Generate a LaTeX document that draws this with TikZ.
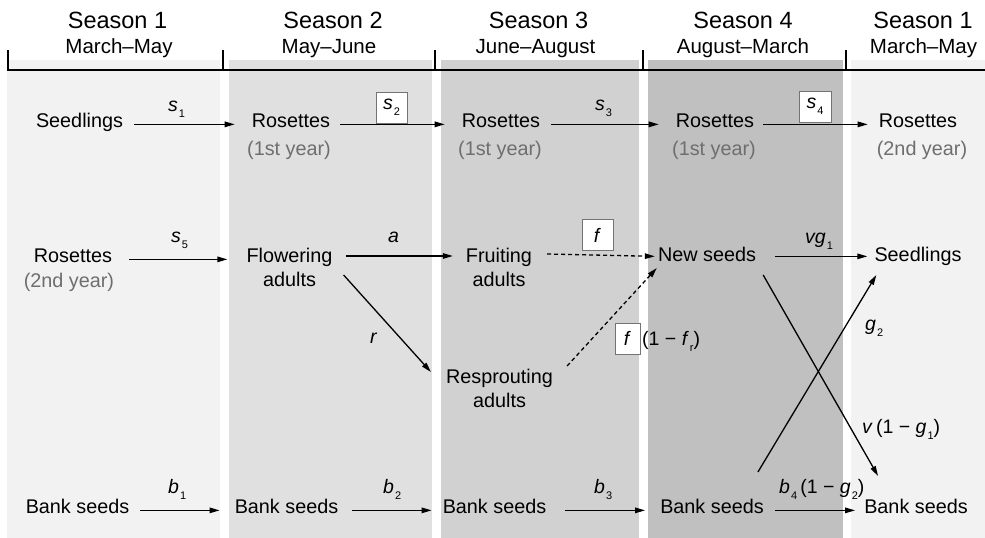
\documentclass[tikz,border=0pt]{standalone}
\usepackage{fontspec}
\setmainfont{Liberation Sans}
\usetikzlibrary{arrows.meta}
\definecolor{colA}{HTML}{F2F2F2}
\definecolor{colB}{HTML}{E0E0E0}
\definecolor{colC}{HTML}{D1D1D1}
\definecolor{colD}{HTML}{C0C0C0}
\definecolor{subgray}{HTML}{6E6E6E}
\newcommand{\lsub}[1]{\hspace{1pt}\raisebox{-6pt}{\fontsize{11}{11}\selectfont #1}}
\begin{document}
\begin{tikzpicture}[x=1pt,y=-1pt,
  txt/.style={font=\fontsize{19.8}{24}\selectfont, inner sep=0pt, align=center},
  gtxt/.style={txt, text=subgray},
  head/.style={font=\fontsize{23.5}{26}\selectfont, inner sep=0pt, anchor=base},
  month/.style={font=\fontsize{20.5}{24}\selectfont, inner sep=0pt, anchor=base},
  lab/.style={font=\fontsize{19.5}{24}\selectfont, inner sep=0pt, anchor=base west},
  boxlab/.style={font=\fontsize{19.5}{24}\selectfont, inner sep=0pt, draw=black!55, fill=white, line width=0.8pt, minimum height=31pt},
  arr/.style={line width=1.3pt, -{Triangle[length=10pt,width=5.5pt]}},
  plain/.style={line width=1.3pt},
  dsh/.style={arr, dash pattern=on 4pt off 3pt}
]
\useasboundingbox (0,0) rectangle (985,538);
% column backgrounds
\fill[colA] (7,60) rectangle (220,538);
\fill[colB] (229,60) rectangle (432,538);
\fill[colC] (441,60) rectangle (639,538);
\fill[colD] (648,60) rectangle (843,538);
\fill[colA] (851,60) rectangle (985,538);
% time axis
\draw[line width=2.3pt] (7,70) -- (985,70);
\foreach \x in {8,223,435,643,846} \draw[line width=2pt] (\x,50) -- (\x,71);
% headers
\node[head] (h1) at (117.5,28) {Season 1};
\node[month] (m1) at (119,53) {March–May};
\node[head] (h2) at (333,28) {Season 2};
\node[month] (m2) at (329,53) {May–June};
\node[head] (h3) at (538.5,28) {Season 3};
\node[month] (m3) at (535.5,53) {June–August};
\node[head] (h4) at (743,28) {Season 4};
\node[month] (m4) at (743,53) {August–March};
\node[head] (h5) at (923,28) {Season 1};
\node[month] (m5) at (923.5,53) {March–May};
% row 1
\node[txt, anchor=base] (seed1) at (79.5,127) {Seedlings};
\node[txt, anchor=base] (ros2) at (291,127) {Rosettes};
\node[gtxt, anchor=base] (yr2) at (289,155) {(1st year)};
\node[txt, anchor=base] (ros3) at (501,127) {Rosettes};
\node[gtxt, anchor=base] (yr3) at (500,155) {(1st year)};
\node[txt, anchor=base] (ros4) at (715,127) {Rosettes};
\node[gtxt, anchor=base] (yr4) at (714,155) {(1st year)};
\node[txt, anchor=base] (ros5) at (918,127) {Rosettes};
\node[gtxt, anchor=base] (yr5) at (922,155) {(2nd year)};
% row 2
\node[txt, anchor=base] (ros1) at (73,262) {Rosettes};
\node[gtxt, anchor=base] (yr1) at (69,287) {(2nd year)};
\node[txt] (flow) at (289.5,267) {Flowering\\adults};
\node[txt] (fruit) at (499,267) {Fruiting\\adults};
\node[txt] (resp) at (499.5,388) {Resprouting\\adults};
\node[txt, anchor=base] (newsd) at (707,261) {New seeds};
\node[txt, anchor=base] (seed5) at (918,261) {Seedlings};
% row 3
\node[txt, anchor=base] (bank1) at (77.5,513) {Bank seeds};
\node[txt, anchor=base] (bank2) at (286.5,513) {Bank seeds};
\node[txt, anchor=base] (bank3) at (494.5,513) {Bank seeds};
\node[txt, anchor=base] (bank4) at (712,513) {Bank seeds};
\node[txt, anchor=base] (bank5) at (916,513) {Bank seeds};
% row 1 arrows
\draw[arr] ([xshift=11pt]seed1.mid east) -- ([xshift=-17pt]ros2.mid west);
\draw[arr] ([xshift=10pt]ros2.mid east) -- ([xshift=-17pt]ros3.mid west);
\draw[arr] ([xshift=11pt]ros3.mid east) -- ([xshift=-17pt]ros4.mid west);
\draw[arr] ([xshift=9pt]ros4.mid east) -- ([xshift=-11pt]ros5.mid west);
% row 2 arrows
\draw[arr] ([xshift=17pt]ros1.mid east) -- ([xshift=-19pt]flow.west |- ros1.mid east);
\draw[arr] ([shift={(13,-11)}]flow.east) -- ([shift={(-13,-11)}]fruit.west);
\draw[dsh] ([shift={(15,-13)}]fruit.east) -- ([xshift=-3pt,yshift=2pt]newsd.mid west);
\draw[arr] ([xshift=19pt,yshift=2pt]newsd.mid east) -- ([xshift=-7pt,yshift=2pt]seed5.mid west);
\draw[arr] ([shift={(11,8)}]flow.east) -- ([shift={(-15,-16)}]resp.west);
\draw[dsh] ([shift={(14,-22)}]resp.east) -- ([shift={(-1,7)}]newsd.base west);
% crossing
\draw[arr] ([shift={(7,14)}]newsd.base east) -- ([shift={(14,-37)}]bank5.base west);
\draw[arr] ([shift={(-6,-41)}]bank4.base east) -- ([shift={(2,14)}]seed5.base west);
% row 3 arrows
\draw[arr] ([xshift=11pt]bank1.mid east) -- ([xshift=-15pt]bank2.mid west);
\draw[arr] ([xshift=14pt]bank2.mid east) -- ([xshift=-11pt]bank3.mid west);
\draw[arr] ([xshift=19pt]bank3.mid east) -- ([xshift=-15pt]bank4.mid west);
\draw[arr] ([xshift=11pt]bank4.mid east) -- ([xshift=-9pt]bank5.mid west);
% labels
\node[lab] (ls1) at (168,111) {\textit{s}\lsub{1}};
\node[boxlab, minimum width=31pt] (ls2) at (391.5,107.5) {\textit{s}\lsub{2}};
\node[lab] (ls3) at (595,110) {\textit{s}\lsub{3}};
\node[boxlab, minimum width=32pt] (ls4) at (815,106.5) {\textit{s}\lsub{4}};
\node[lab] (ls5) at (171,242) {\textit{s}\lsub{5}};
\node[lab] (la) at (388,242) {\textit{a}};
\node[lab] (lr) at (370,343) {\textit{r}};
\node[boxlab, minimum width=31pt] (lf) at (597.5,235) {\textit{f}};
\node[lab] (lvg) at (805,243) {\textit{vg}\lsub{1}};
\node[boxlab, minimum width=25pt] (lfr) at (627.5,338.5) {\textit{f}};
\node[lab] (lfr2) at (642,345) {(1 − \textit{f}\lsub{r})};
\node[lab] (lg2) at (865,330) {\textit{g}\lsub{2}};
\node[lab] (lv) at (862,433) {\textit{v}\,(1 − \textit{g}\lsub{1})};
\node[lab] (lb1) at (168,493) {\textit{b}\lsub{1}};
\node[lab] (lb2) at (383,493) {\textit{b}\lsub{2}};
\node[lab] (lb3) at (594,493) {\textit{b}\lsub{3}};
\node[lab] (lb4) at (779,493) {\textit{b}\lsub{4}\,(1 − \textit{g}\lsub{2})};
\end{tikzpicture}
\end{document}
